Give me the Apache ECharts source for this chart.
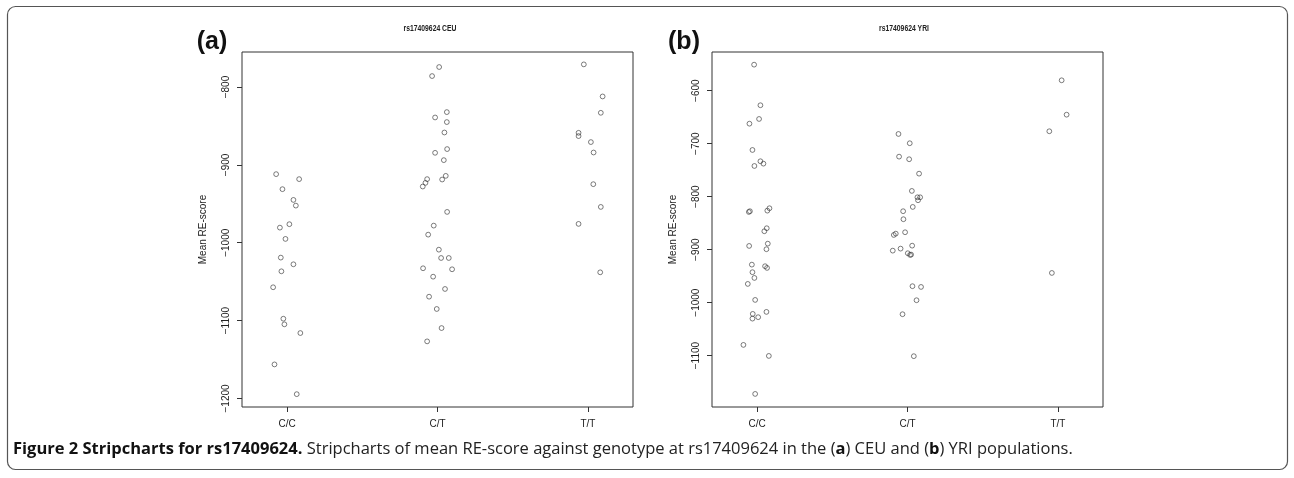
<!DOCTYPE html>
<html>
<head>
<meta charset="utf-8">
<title>Stripcharts for rs17409624</title>
<script src="https://cdn.jsdelivr.net/npm/echarts@6/dist/echarts.min.js"></script>
<style>
  html, body { margin: 0; padding: 0; background: #fff; }
  #chart { width: 1294px; height: 478px; }
</style>
</head>
<body>
<div id="chart"></div>
<script>
// genotype groups on the x axis (1, 2, 3)
const categories = ["C/C", "C/T", "T/T"];
const catTicks = [1, 2, 3];
const ceuTicks = [-1200, -1100, -1000, -900, -800];
const yriTicks = [-1100, -1000, -900, -800, -700, -600];

// (a) CEU - mean RE-score per individual, jitter = horizontal offset from the group
const ceuCC = [-911.9, -918.3, -931.2, -945, -952.3, -976.2, -980.6, -995.1, -1019.1, -1027.7, -1036.7, -1057.2, -1097.6, -1104.8, -1116, -1156.3, -1194.5];
const ceuCCJitter = [-0.073, 0.08, -0.031, 0.042, 0.058, 0.015, -0.048, -0.011, -0.042, 0.042, -0.038, -0.093, -0.025, -0.018, 0.088, -0.084, 0.064];
const ceuCT = [-774.3, -785.9, -832.2, -839.1, -845, -858.4, -879.7, -884.5, -893.9, -914.1, -918.8, -918.3, -923.1, -927.8, -960.4, -978, -989.6, -1008.9, -1019.6, -1019.6, -1032.8, -1034.1, -1043.6, -1059.4, -1069.3, -1085.1, -1109.6, -1126.7];
const ceuCTJitter = [0.011, -0.036, 0.062, -0.016, 0.062, 0.046, 0.064, -0.016, 0.042, 0.055, 0.031, -0.069, -0.08, -0.098, 0.064, -0.025, -0.062, 0.009, 0.024, 0.075, -0.096, 0.097, -0.029, 0.05, -0.056, -0.005, 0.027, -0.069];
const ceuTT = [-770.9, -812.1, -833.1, -858.8, -863, -870.7, -884.1, -924.8, -954, -975.8, -1038];
const ceuTTJitter = [-0.027, 0.098, 0.086, -0.062, -0.062, 0.02, 0.038, 0.036, 0.086, -0.062, 0.082];

// (b) YRI
const yriCC = [-550.9, -627.5, -653.4, -662.3, -711.9, -733.2, -737.7, -742.1, -828.9, -827.5, -821.9, -826.4, -859.6, -865.3, -888.7, -893, -899.2, -928.3, -931.3, -934.5, -942.6, -953.4, -964.7, -994.9, -1021.3, -1030.2, -1027.5, -1017.5, -1079.8, -1100.6, -1172.3];
const yriCCJitter = [-0.02, 0.022, 0.013, -0.051, -0.031, 0.022, 0.042, -0.018, -0.055, -0.048, 0.082, 0.068, 0.064, 0.048, 0.071, -0.053, 0.062, -0.035, 0.053, 0.066, -0.031, -0.018, -0.062, -0.013, -0.029, -0.031, 0.007, 0.062, -0.091, 0.078, -0.013];
const yriCT = [-681.7, -699.2, -724.5, -729.4, -756.6, -789.2, -801.2, -801.2, -806.8, -819.4, -827.5, -842.6, -867.2, -869.8, -872.3, -892.5, -898.1, -901.9, -906.8, -910, -909.4, -969, -970.4, -995.5, -1021.9, -1101.1];
const yriCTJitter = [-0.06, 0.015, -0.056, 0.011, 0.077, 0.029, 0.066, 0.084, 0.07, 0.035, -0.029, -0.027, -0.016, -0.078, -0.091, 0.031, -0.046, -0.098, 0.002, 0.017, 0.024, 0.033, 0.09, 0.06, -0.033, 0.042];
const yriTT = [-580.4, -645.3, -676.6, -944];
const yriTTJitter = [0.025, 0.058, -0.057, -0.04];

const FONT = "'Liberation Sans', Arial, sans-serif";
const CAPTION_FONT = "'Open Sans', sans-serif";
const INK = "#222";

function strip(group, values, jitter) {
  return values.map((v, i) => [group + jitter[i], v]);
}

function minusLabel(v) {
  return v < 0 ? "\u2212" + Math.abs(v) : String(v);
}

function xAxisFor(gridIndex) {
  return {
    gridIndex: gridIndex,
    type: "value",
    min: 0.7,
    max: 3.3,
    axisLine: { show: false, onZero: false },
    splitLine: { show: false },
    axisTick: { show: true, length: 5, customValues: catTicks, lineStyle: { color: "#333" } },
    axisLabel: {
      customValues: catTicks,
      formatter: (v) => categories[Math.round(v) - 1],
      margin: 12,
      fontSize: 10,
      fontFamily: FONT,
      color: INK,
    },
  };
}

function yAxisFor(gridIndex, min, max, ticks) {
  return {
    gridIndex: gridIndex,
    type: "value",
    min: min,
    max: max,
    name: "Mean RE-score",
    nameLocation: "middle",
    nameRotate: 90,
    nameGap: 34,
    nameTextStyle: { fontSize: 10, fontFamily: FONT, color: INK },
    axisLine: { show: false, onZero: false },
    splitLine: { show: false },
    axisTick: { show: true, length: 5, customValues: ticks, lineStyle: { color: "#333" } },
    axisLabel: {
      customValues: ticks,
      rotate: 90,
      margin: 11,
      formatter: minusLabel,
      fontSize: 10,
      fontFamily: FONT,
      color: INK,
    },
  };
}

function stripSeries(axisIndex, data) {
  return {
    type: "scatter",
    xAxisIndex: axisIndex,
    yAxisIndex: axisIndex,
    symbol: "circle",
    symbolSize: 4.8,
    itemStyle: { color: "transparent", borderColor: "#333", borderWidth: 0.8 },
    emphasis: { disabled: true },
    data: data,
  };
}

var chartDom = document.getElementById("chart");
var myChart = echarts.init(chartDom, null, { renderer: "canvas" });

let option = {
  animation: false,
  textStyle: { fontFamily: FONT },
  grid: [
    { left: 242, top: 52, width: 391, height: 355, show: true, borderColor: "#333", borderWidth: 1, backgroundColor: "transparent" },
    { left: 712, top: 52, width: 391, height: 355, show: true, borderColor: "#333", borderWidth: 1, backgroundColor: "transparent" },
  ],
  xAxis: [xAxisFor(0), xAxisFor(1)],
  yAxis: [
    yAxisFor(0, -1211, -755, ceuTicks),
    yAxisFor(1, -1197, -527, yriTicks),
  ],
  series: [
    stripSeries(0, strip(1, ceuCC, ceuCCJitter)),
    stripSeries(0, strip(2, ceuCT, ceuCTJitter)),
    stripSeries(0, strip(3, ceuTT, ceuTTJitter)),
    stripSeries(1, strip(1, yriCC, yriCCJitter)),
    stripSeries(1, strip(2, yriCT, yriCTJitter)),
    stripSeries(1, strip(3, yriTT, yriTTJitter)),
  ],
  graphic: [
    // outer figure frame
    {
      type: "rect",
      z: -10,
      shape: { x: 7.5, y: 6.5, width: 1280, height: 463, r: 8 },
      style: { fill: "none", stroke: "#555", lineWidth: 1.2 },
    },
    {
      type: "text", x: 212, y: 42,
      style: { text: "(a)", font: "bold 25px " + FONT, fill: "#111", align: "center", verticalAlign: "middle" },
    },
    {
      type: "text", x: 684, y: 42,
      style: { text: "(b)", font: "bold 25px " + FONT, fill: "#111", align: "center", verticalAlign: "middle" },
    },
    // panel titles: narrow bold, squeezed horizontally
    {
      type: "text", x: 430, y: 29, scaleX: 0.8,
      style: { text: "rs17409624 CEU", font: "bold 8.5px " + FONT, fill: INK, align: "center", verticalAlign: "middle" },
    },
    {
      type: "text", x: 904, y: 29, scaleX: 0.8,
      style: { text: "rs17409624 YRI", font: "bold 8.5px " + FONT, fill: INK, align: "center", verticalAlign: "middle" },
    },
    {
      type: "text", x: 13, y: 449,
      style: {
        text: "{b|Figure 2 Stripcharts for rs17409624.} Stripcharts of mean RE-score against genotype at rs17409624 in the ({b|a}) CEU and ({b|b}) YRI populations.",
        font: "16.5px " + CAPTION_FONT,
        fill: "#222",
        verticalAlign: "middle",
        rich: {
          b: { fontWeight: "bold", fontSize: 16.5, fontFamily: CAPTION_FONT, fill: "#111" },
        },
      },
    },
  ],
};

option && myChart.setOption(option);
</script>
</body>
</html>
